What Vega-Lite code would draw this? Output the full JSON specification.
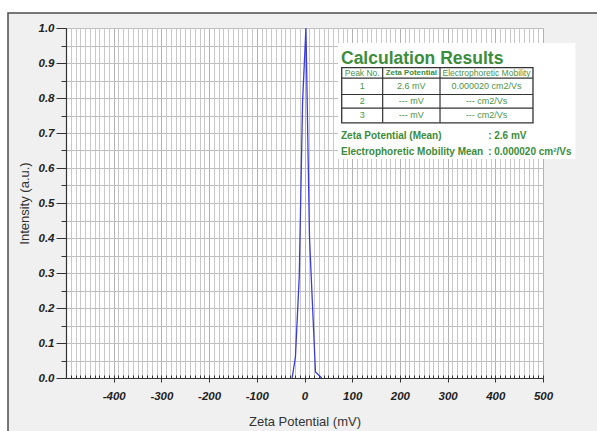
{
  "$schema": "https://vega.github.io/schema/vega-lite/v6.json",
  "width": 477,
  "height": 350,
  "autosize": {"type": "none"},
  "padding": {"left": 66, "top": 28, "right": 54, "bottom": 53},
  "background": "#f0f0f0",
  "config": {
    "view": {"fill": "white", "stroke": null},
    "axis": {
      "labelFont": "Liberation Sans",
      "labelFontWeight": "bold",
      "labelFontStyle": "italic",
      "labelFontSize": 11.5,
      "labelColor": "#222222",
      "titleFont": "Liberation Sans",
      "titleFontWeight": "normal",
      "titleFontSize": 13,
      "titleColor": "#333333",
      "tickColor": "#333333",
      "domainColor": "#333333"
    }
  },
  "resolve": {"axis": {"x": "independent", "y": "independent"}},
  "layer": [
    {
      "data": {"values": [{}]},
      "mark": {"type": "rect", "color": "white"},
      "encoding": {
        "x": {"datum": -700, "type": "quantitative", "axis": null},
        "x2": {"datum": -621.6},
        "y": {"datum": -0.5, "type": "quantitative", "axis": null},
        "y2": {"datum": 1.3}
      }
    },
    {
      "data": {"values": [{}]},
      "mark": {"type": "rect", "color": "white"},
      "encoding": {
        "x": {"datum": -700, "type": "quantitative", "axis": null},
        "x2": {"datum": 800},
        "y": {"datum": 1.0429, "type": "quantitative", "axis": null},
        "y2": {"datum": 1.3}
      }
    },
    {
      "data": {"values": [{}]},
      "mark": {"type": "rect", "filled": false, "stroke": "#4d4d4d", "strokeWidth": 1.5},
      "encoding": {
        "x": {"datum": -621.6, "type": "quantitative",
          "axis": {"orient": "bottom", "values": [-500,-490,-480,-470,-460,-450,-440,-430,-420,-410,-400,-390,-380,-370,-360,-350,-340,-330,-320,-310,-300,-290,-280,-270,-260,-250,-240,-230,-220,-210,-200,-190,-180,-170,-160,-150,-140,-130,-120,-110,-100,-90,-80,-70,-60,-50,-40,-30,-20,-10,0,10,20,30,40,50,60,70,80,90,100,110,120,130,140,150,160,170,180,190,200,210,220,230,240,250,260,270,280,290,300,310,320,330,340,350,360,370,380,390,400,410,420,430,440,450,460,470,480,490,500],
            "grid": true, "gridColor": "#c8c8c8", "gridWidth": 1, "tickSize": -3, "tickWidth": 1, "labels": false, "domain": false, "title": null}},
        "x2": {"datum": 800},
        "y": {"datum": 1.0429, "type": "quantitative",
          "axis": {"orient": "left", "values": [0,0.05,0.1,0.15,0.2,0.25,0.3,0.35,0.4,0.45,0.5,0.55,0.6,0.65,0.7,0.75,0.8,0.85,0.9,0.95,1],
            "grid": true, "gridColor": "#bfbfbf", "gridWidth": 1, "tickSize": 5, "labels": false, "domain": false, "title": null}},
        "y2": {"datum": -0.5}
      }
    },
    {
      "data": {"values": [
        {"mv": -26, "intensity": 0},
        {"mv": -19, "intensity": 0.06},
        {"mv": -11, "intensity": 0.29},
        {"mv": -4, "intensity": 0.79},
        {"mv": 3, "intensity": 1.0},
        {"mv": 10.5, "intensity": 0.4},
        {"mv": 23, "intensity": 0.017},
        {"mv": 36, "intensity": 0}
      ]},
      "mark": {"type": "line", "color": "#3b3bdc", "strokeWidth": 1.3},
      "encoding": {
        "x": {"field": "mv", "type": "quantitative",
          "scale": {"domain": [-500, 500], "nice": false, "zero": false},
          "axis": {"orient": "bottom", "values": [-400,-300,-200,-100,0,100,200,300,400,500],
            "labelExpr": "datum.value < 0 ? '-' + abs(datum.value) : '' + datum.value",
            "grid": true, "gridColor": "#b3b3b3", "tickSize": 4, "labelPadding": 8, "labelFlush": false,
            "domain": true, "domainWidth": 1.2, "title": "Zeta Potential (mV)", "titlePadding": 14}},
        "y": {"field": "intensity", "type": "quantitative",
          "scale": {"domain": [0, 1], "nice": false, "zero": false},
          "axis": {"orient": "left", "values": [0,0.1,0.2,0.3,0.4,0.5,0.6,0.7,0.8,0.9,1], "format": ".1f",
            "grid": false, "tickSize": 10, "labelPadding": 2, "domain": true, "domainWidth": 1.2,
            "title": "Intensity (a.u.)", "titlePadding": 7}}
      }
    },
    {
      "data": {"values": [{}]},
      "mark": {"type": "rect", "color": "white"},
      "encoding": {
        "x": {"datum": 70.2, "type": "quantitative", "axis": null},
        "x2": {"datum": 567.9},
        "y": {"datum": 0.957, "type": "quantitative", "axis": null},
        "y2": {"datum": 0.626}
      }
    },
    {
      "data": {"values": [{}]},
      "mark": {"type": "text", "text": "Calculation Results", "align": "left", "baseline": "alphabetic",
        "font": "Liberation Sans", "fontSize": 17.5, "fontWeight": "bold", "color": "#3b8c3b"},
      "encoding": {
        "x": {"datum": 76.5, "type": "quantitative", "axis": null},
        "y": {"datum": 0.897, "type": "quantitative", "axis": null}
      }
    },
    {
      "data": {"values": [{}]},
      "mark": {"type": "rect", "filled": false, "stroke": "#333333", "strokeWidth": 1.3},
      "encoding": {
        "x": {"datum": 78, "type": "quantitative", "axis": null},
        "x2": {"datum": 479},
        "y": {"datum": 0.887, "type": "quantitative", "axis": null},
        "y2": {"datum": 0.729}
      }
    },
    {
      "data": {"values": [{}]},
      "mark": {"type": "rule", "color": "#333333", "strokeWidth": 1.2},
      "encoding": {
        "x": {"datum": 78, "type": "quantitative", "axis": null},
        "x2": {"datum": 479},
        "y": {"datum": 0.857, "type": "quantitative", "axis": null}
      }
    },
    {
      "data": {"values": [{}]},
      "mark": {"type": "rule", "color": "#333333", "strokeWidth": 1.2},
      "encoding": {
        "x": {"datum": 78, "type": "quantitative", "axis": null},
        "x2": {"datum": 479},
        "y": {"datum": 0.81, "type": "quantitative", "axis": null}
      }
    },
    {
      "data": {"values": [{}]},
      "mark": {"type": "rule", "color": "#333333", "strokeWidth": 1.2},
      "encoding": {
        "x": {"datum": 78, "type": "quantitative", "axis": null},
        "x2": {"datum": 479},
        "y": {"datum": 0.771, "type": "quantitative", "axis": null}
      }
    },
    {
      "data": {"values": [{}]},
      "mark": {"type": "rule", "color": "#333333", "strokeWidth": 1.2},
      "encoding": {
        "x": {"datum": 163.9, "type": "quantitative", "axis": null},
        "y": {"datum": 0.887, "type": "quantitative", "axis": null},
        "y2": {"datum": 0.729}
      }
    },
    {
      "data": {"values": [{}]},
      "mark": {"type": "rule", "color": "#333333", "strokeWidth": 1.2},
      "encoding": {
        "x": {"datum": 284.1, "type": "quantitative", "axis": null},
        "y": {"datum": 0.887, "type": "quantitative", "axis": null},
        "y2": {"datum": 0.729}
      }
    },
    {
      "data": {"values": [{}]},
      "mark": {"type": "text", "text": "Peak No.", "align": "center", "baseline": "middle",
        "font": "Liberation Sans", "fontSize": 8.5, "color": "#4a944a"},
      "encoding": {
        "x": {"datum": 121, "type": "quantitative", "axis": null},
        "y": {"datum": 0.872, "type": "quantitative", "axis": null}
      }
    },
    {
      "data": {"values": [{}]},
      "mark": {"type": "text", "text": "Zeta Potential", "align": "center", "baseline": "middle",
        "font": "Liberation Sans", "fontSize": 7.8, "fontWeight": "bold", "color": "#3b8c3b"},
      "encoding": {
        "x": {"datum": 224, "type": "quantitative", "axis": null},
        "y": {"datum": 0.872, "type": "quantitative", "axis": null}
      }
    },
    {
      "data": {"values": [{}]},
      "mark": {"type": "text", "text": "Electrophoretic Mobility", "align": "center", "baseline": "middle",
        "font": "Liberation Sans", "fontSize": 8.5, "color": "#4a944a"},
      "encoding": {
        "x": {"datum": 381.5, "type": "quantitative", "axis": null},
        "y": {"datum": 0.872, "type": "quantitative", "axis": null}
      }
    },
    {
      "data": {"values": [{}]},
      "mark": {"type": "text", "text": ["1", "2", "3"], "lineHeight": 14.7, "align": "center", "baseline": "middle",
        "font": "Liberation Sans", "fontSize": 9, "color": "#4a944a"},
      "encoding": {
        "x": {"datum": 121, "type": "quantitative", "axis": null},
        "y": {"datum": 0.834, "type": "quantitative", "axis": null}
      }
    },
    {
      "data": {"values": [{}]},
      "mark": {"type": "text", "text": ["2.6 mV", "--- mV", "--- mV"], "lineHeight": 14.7, "align": "center", "baseline": "middle",
        "font": "Liberation Sans", "fontSize": 9, "color": "#4a944a"},
      "encoding": {
        "x": {"datum": 224, "type": "quantitative", "axis": null},
        "y": {"datum": 0.834, "type": "quantitative", "axis": null}
      }
    },
    {
      "data": {"values": [{}]},
      "mark": {"type": "text", "text": ["0.000020 cm2/Vs", "--- cm2/Vs", "--- cm2/Vs"], "lineHeight": 14.7, "align": "center", "baseline": "middle",
        "font": "Liberation Sans", "fontSize": 9, "color": "#4a944a"},
      "encoding": {
        "x": {"datum": 381.5, "type": "quantitative", "axis": null},
        "y": {"datum": 0.834, "type": "quantitative", "axis": null}
      }
    },
    {
      "data": {"values": [{}]},
      "mark": {"type": "text", "text": "Zeta Potential (Mean)", "align": "left", "baseline": "alphabetic",
        "font": "Liberation Sans", "fontSize": 10, "fontWeight": "bold", "color": "#3b8c3b"},
      "encoding": {
        "x": {"datum": 76.5, "type": "quantitative", "axis": null},
        "y": {"datum": 0.683, "type": "quantitative", "axis": null}
      }
    },
    {
      "data": {"values": [{}]},
      "mark": {"type": "text", "text": ": 2.6 mV", "align": "left", "baseline": "alphabetic",
        "font": "Liberation Sans", "fontSize": 10, "fontWeight": "bold", "color": "#3b8c3b"},
      "encoding": {
        "x": {"datum": 385, "type": "quantitative", "axis": null},
        "y": {"datum": 0.683, "type": "quantitative", "axis": null}
      }
    },
    {
      "data": {"values": [{}]},
      "mark": {"type": "text", "text": "Electrophoretic Mobility Mean", "align": "left", "baseline": "alphabetic",
        "font": "Liberation Sans", "fontSize": 10, "fontWeight": "bold", "color": "#3b8c3b"},
      "encoding": {
        "x": {"datum": 76.5, "type": "quantitative", "axis": null},
        "y": {"datum": 0.636, "type": "quantitative", "axis": null}
      }
    },
    {
      "data": {"values": [{}]},
      "mark": {"type": "text", "text": ": 0.000020 cm²/Vs", "align": "left", "baseline": "alphabetic",
        "font": "Liberation Sans", "fontSize": 10, "fontWeight": "bold", "color": "#3b8c3b"},
      "encoding": {
        "x": {"datum": 385, "type": "quantitative", "axis": null},
        "y": {"datum": 0.636, "type": "quantitative", "axis": null}
      }
    }
  ]
}
